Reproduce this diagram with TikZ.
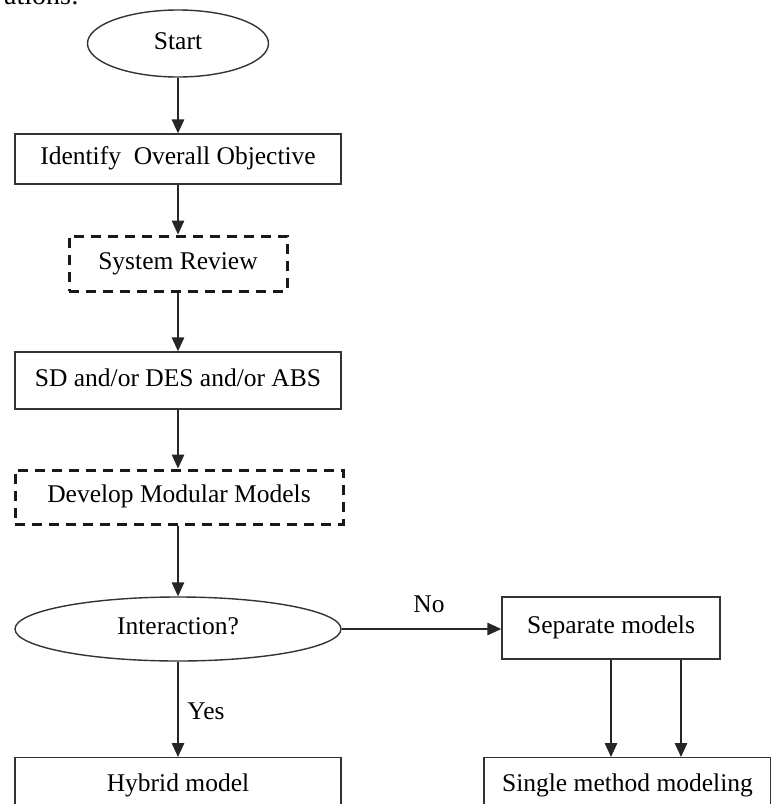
\documentclass[tikz,border=0pt]{standalone}
\usepackage{fontspec}
\setmainfont{Liberation Serif}
\usetikzlibrary{arrows.meta,shapes.geometric,calc}
\begin{document}
\begin{tikzpicture}[x=1pt,y=-1pt,
  every node/.style={font=\fontsize{25.5}{30}\selectfont, text height=16, text depth=5},
  conn/.style={line width=1.4pt, draw=black!85, -{Triangle[width=12.5pt,length=14pt]}},
  oval/.style={ellipse, draw=black!80, line width=1.4pt, inner sep=0pt},
  boxn/.style={rectangle, draw=black!80, line width=1.4pt, inner sep=0pt},
  dbox/.style={rectangle, draw=black!90, line width=3pt, dash pattern=on 10pt off 7pt, inner sep=0pt},
  lbl/.style={inner sep=0pt}
]
\useasboundingbox (0,0) rectangle (771,804);
\clip (0,0) rectangle (771,804);

\node[lbl, anchor=base east, font=\fontsize{28}{32}\selectfont] (cut) at (79,4) {ations:};

\node[oval, minimum width=181, minimum height=67] (start) at (178,43.5) {Start};
\node[boxn, minimum width=326, minimum height=50] (ident) at (178,159) {Identify\ \ Overall Objective};
\node[dbox, minimum width=218, minimum height=55] (review) at (178,263.5) {System Review};
\node[boxn, minimum width=326, minimum height=57] (sd) at (178,380.5) {SD and/or DES and/or ABS};
\node[dbox, minimum width=328, minimum height=54] (dev) at (179,497) {Develop Modular Models};
\node[oval, minimum width=326, minimum height=64] (inter) at (178,629) {Interaction?};
\node[boxn, minimum width=218, minimum height=62] (sep) at (611,628) {Separate models};
\node[boxn, anchor=north, minimum width=326, inner ysep=18pt] (hyb) at (178,757) {Hybrid model};
\node[boxn, anchor=north, minimum width=287, inner ysep=18pt] (single) at (627.5,757) {Single method modeling};

\draw[conn] (start.south) -- (ident.north);
\draw[conn] (ident.south) -- (review.north);
\draw[conn] (review.south) -- (sd.north);
\draw[conn] (sd.south) -- (sd.south |- dev.north);
\draw[conn] (sd.south |- dev.south) -- (inter.north);
\draw[conn] (inter.south) -- (hyb.north);
\draw[conn] (inter.east) -- (inter.east -| sep.west);
\draw[conn] (sep.south) -- (sep.south |- single.north);
\draw[conn] ([xshift=70pt]sep.south) -- ([xshift=70pt]sep.south |- single.north);

\node[lbl] (no) at (429,607) {No};
\node[lbl] (yes) at (206,714) {Yes};
\end{tikzpicture}
\end{document}
